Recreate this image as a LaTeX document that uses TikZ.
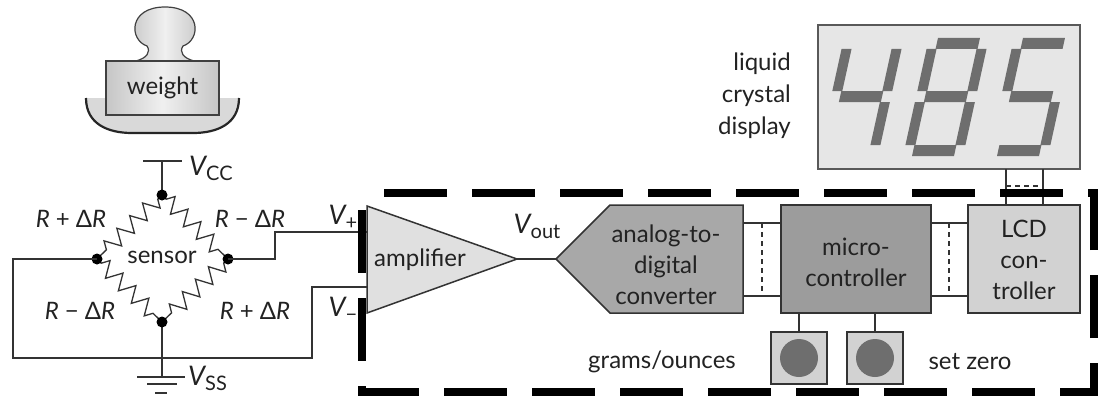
\documentclass[tikz,border=0pt]{standalone}
\usepackage{fontspec}
\setmainfont{Lato}
\usetikzlibrary{decorations.pathmorphing,calc}
\definecolor{wirec}{HTML}{333333}
\definecolor{ink}{HTML}{222222}
\definecolor{ampfill}{HTML}{E0E0E0}
\definecolor{adcfill}{HTML}{A8A8A8}
\definecolor{mcufill}{HTML}{9C9C9C}
\definecolor{lcdfill}{HTML}{D2D2D2}
\definecolor{dispfill}{HTML}{E6E6E6}
\definecolor{segc}{HTML}{6E6E6E}
\newcommand{\blockfont}{\fontsize{24}{31}\selectfont}
\newcommand{\rfont}{\fontsize{24}{24}\selectfont}
\newcommand{\vlab}[2]{{\fontsize{27}{27}\selectfont\itshape V}\raisebox{-5pt}{\fontsize{20}{20}\selectfont #2}}
\newcommand{\mns}{\char"2212}
% seven-segment pieces, local units: digit 60 wide, 118 tall, origin bottom-left
\newcommand{\segA}{\fill[segment] (9,-118) rectangle (51,-107);}
\newcommand{\segB}{\fill[segment] (50,-107) rectangle (60,-65);}
\newcommand{\segC}{\fill[segment] (50,-54) rectangle (60,-11);}
\newcommand{\segD}{\fill[segment] (9,-11) rectangle (51,0);}
\newcommand{\segE}{\fill[segment] (0,-54) rectangle (10,-11);}
\newcommand{\segF}{\fill[segment] (0,-107) rectangle (10,-65);}
\newcommand{\segG}{\fill[segment] (9,-65) rectangle (51,-54);}
\begin{document}
\begin{tikzpicture}[x=1pt,y=-1pt,
  wire/.style={draw=wirec, line width=1.3pt},
  blockline/.style={draw=wirec, line width=1.5pt},
  lbl/.style={text=ink, font=\blockfont, inner sep=0pt, align=center},
  rlbl/.style={text=ink, font=\rfont, inner sep=0pt},
  junction/.style={fill=black},
  resistor/.style={wire, decorate, decoration={zigzag, segment length=18pt, amplitude=8pt, pre length=6pt, post length=6pt}},
  boxnode/.style={blockline, rectangle, inner sep=0pt},
  bus/.style={draw=wirec, line width=1.2pt},
  busgap/.style={draw=wirec, line width=1.1pt, dash pattern=on 5pt off 4pt},
  segment/.style={fill=segc},
  boundary/.style={draw=black, line width=8pt, dash pattern=on 63pt off 25pt, dash phase=71pt}
]
\useasboundingbox (0,0) rectangle (1106,396);

% ---------- weight on its pan ----------
\fill[fill=gray!30] (86,98) .. controls (86,124) and (108,133) .. (132,133)
  -- (193,133) .. controls (217,133) and (239,124) .. (239,98) -- cycle;
\draw[draw=black!85, line width=2.2pt] (86,98) .. controls (86,124) and (108,133) .. (132,133)
  -- (193,133) .. controls (217,133) and (239,124) .. (239,98);
\draw[draw=black!75, line width=1.2pt, left color=gray!45, right color=gray!45, middle color=gray!12]
  (136,61) .. controls (147,58) and (151,52) .. (147,46)
  .. controls (129,40) and (128,7) .. (165,7)
  .. controls (202,7) and (201,40) .. (183,46)
  .. controls (179,52) and (183,58) .. (194,61) -- cycle;
\node[draw=black!75, line width=1.2pt, left color=gray!45, right color=gray!45, middle color=gray!12,
  minimum width=113pt, minimum height=54pt, inner sep=0pt] (weight) at (162.5,88) {};
\node[lbl] (weighttext) at (162.5,88) {weight};

% ---------- strain-gauge bridge ----------
\coordinate (bt) at (162,195);
\coordinate (bl) at (97,259);
\coordinate (br) at (228,259);
\coordinate (bb) at (162,322);
\coordinate (vcc) at (162,161);
\coordinate (gnd) at (162,377);
\draw[resistor] (bt) -- (bl);
\draw[resistor] (bt) -- (br);
\draw[resistor] (bl) -- (bb);
\draw[resistor] (br) -- (bb);
\draw[wire] (bt) -- (vcc);
\draw[wire] ($(vcc)+(-19,0)$) -- ($(vcc)+(20,0)$);
\draw[wire] (bb) -- (gnd);
\draw[wire] ($(gnd)+(-25,0)$) -- ($(gnd)+(23,0)$);
\draw[wire] ($(gnd)+(-15,7)$) -- ($(gnd)+(15,7)$);
\draw[wire] ($(gnd)+(-7,16)$) -- ($(gnd)+(5,16)$);
\fill[junction] (bt) circle[radius=5.5pt];
\fill[junction] (bl) circle[radius=5.5pt];
\fill[junction] (br) circle[radius=5.5pt];
\fill[junction] (bb) circle[radius=5.5pt];
\node[lbl] (sensor) at (162,257) {sensor};
\node[rlbl] (r1) at (71,219) {\textit{R} + Δ\textit{R}};
\node[rlbl] (r2) at (250,219) {\textit{R} \mns{} Δ\textit{R}};
\node[rlbl] (r3) at (80,311) {\textit{R} \mns{} Δ\textit{R}};
\node[rlbl] (r4) at (255,311) {\textit{R} + Δ\textit{R}};
\node[rlbl, anchor=west] (vcclab) at (189,168) {\vlab{V}{CC}};
\node[rlbl, anchor=west] (vsslab) at (188,378) {\vlab{V}{SS}};
\node[rlbl] (vplab) at (343,217) {\vlab{V}{+}};
\node[rlbl] (vmlab) at (343,309) {\vlab{V}{\mns}};

% ---------- amplifier ----------
\coordinate (ampin1) at (367,232);
\coordinate (ampin2) at (367,287);
\coordinate (ampout) at (517,259);
\filldraw[blockline, fill=ampfill] (367,206) -- (ampout) -- (367,313) -- cycle;
\node[lbl] (amplabel) at (420,260) {amplifier};
\draw[wire] (br) -- (275,259) -- (275,232) -- (ampin1);
\draw[wire] (bl) -- (13,259) -- (13,358) -- (312,358) -- (312,287) -- (ampin2);

% ---------- analog-to-digital converter ----------
\coordinate (adcin) at (556,259);
\filldraw[blockline, fill=adcfill] (adcin) -- (610,205) -- (743,205) -- (743,313) -- (610,313) -- cycle;
\node[lbl] (adclabel) at (666,265) {analog-to-\\digital\\converter};
\draw[wire] (ampout) -- (adcin);
\node[rlbl] (voutlab) at (537,226) {\vlab{V}{out}};

% ---------- microcontroller and LCD controller ----------
\node[boxnode, fill=mcufill, minimum width=150pt, minimum height=108pt] (mcu) at (856,259) {};
\node[lbl] at (856,262) {micro-\\controller};
\node[boxnode, fill=lcdfill, minimum width=112pt, minimum height=108pt] (lcd) at (1024,259) {};
\node[lbl] at (1024,260) {LCD\\con-\\troller};

% buses between the blocks
\draw[bus] (743,223) -- (mcu.west |- 0,223);
\draw[bus] (743,296) -- (mcu.west |- 0,296);
\draw[busgap] (762,223) -- (762,296);
\draw[bus] (mcu.east |- 0,223) -- (lcd.west |- 0,223);
\draw[bus] (mcu.east |- 0,296) -- (lcd.west |- 0,296);
\draw[busgap] (949,223) -- (949,296);

% ---------- push buttons ----------
\node[boxnode, draw=wirec, line width=1.3pt, fill=lcdfill, minimum width=56pt, minimum height=52pt] (btn1) at (799,358) {};
\node[circle, fill=segc, minimum size=38pt, inner sep=0pt] (knob1) at (btn1.center) {};
\node[boxnode, draw=wirec, line width=1.3pt, fill=lcdfill, minimum width=56pt, minimum height=52pt] (btn2) at (875,358) {};
\node[circle, fill=segc, minimum size=38pt, inner sep=0pt] (knob2) at (btn2.center) {};
\draw[wire] (btn1.north) -- (btn1.north |- mcu.south);
\draw[wire] (btn2.north) -- (btn2.north |- mcu.south);
\node[lbl] (gramslab) at (662,362) {grams/ounces};
\node[lbl] (zerolab) at (970,362) {set zero};

% ---------- liquid crystal display ----------
\node[draw=black!65, line width=1.3pt, fill=dispfill, minimum width=262pt, minimum height=144pt, inner sep=0pt] (disp) at (949,97) {};
\node[lbl, align=right, anchor=east, font=\fontsize{24}{32}\selectfont] (displab) at (791,96) {liquid\\crystal\\display};
\begin{scope}[shift={(818,156)}, xslant=0.22]
  \segF \segG \segB \segC
\end{scope}
\begin{scope}[shift={(903,156)}, xslant=0.22]
  \segA \segB \segC \segD \segE \segF \segG
\end{scope}
\begin{scope}[shift={(988,156)}, xslant=0.22]
  \segA \segF \segG \segC \segD
\end{scope}
\draw[bus] (1006,169) -- (1006,205);
\draw[bus] (1043,169) -- (1043,205);
\draw[busgap] (1006,186) -- (1043,186);

% ---------- dashed outline around the electronics ----------
\draw[boundary] (362,193) rectangle (1094,392);
\end{tikzpicture}
\end{document}
